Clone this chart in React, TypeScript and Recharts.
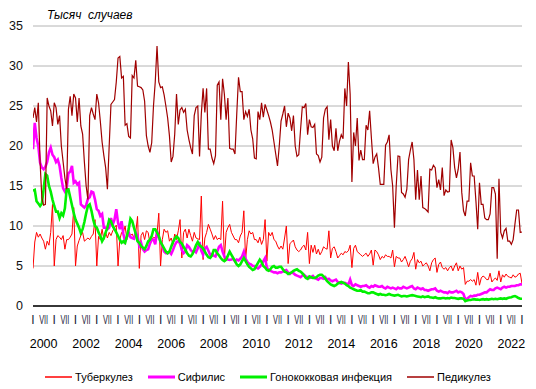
import React from 'react';
import { LineChart, Line, XAxis, YAxis, CartesianGrid, Legend } from 'recharts';

// Monthly values, thousand cases, Jan 2000 .. Jan 2023
const tuberculosis = [
  4.7, 8.0, 9.2, 8.6, 9.0, 8.5, 8.1, 7.1, 8.1, 7.6, 9.2, 12.7,
  5.0, 8.3, 8.8, 8.6, 8.3, 8.8, 7.1, 8.3, 8.3, 8.6, 9.0, 12.3,
  5.0, 7.5, 8.2, 8.8, 9.2, 8.1, 8.3, 8.5, 8.3, 8.7, 9.0, 10.8,
  5.0, 8.7, 8.3, 9.6, 8.3, 9.2, 8.5, 9.2, 8.8, 9.4, 9.8, 10.1,
  5.0, 8.3, 9.2, 9.2, 10.0, 8.3, 9.2, 8.8, 9.0, 8.5, 9.2, 11.2,
  4.7, 8.8, 9.2, 8.3, 9.4, 9.2, 7.8, 8.3, 8.6, 8.5, 9.0, 11.6,
  5.0, 8.3, 9.6, 9.2, 9.4, 8.1, 8.5, 7.7, 9.0, 8.3, 9.4, 10.8,
  6.0, 9.2, 9.6, 8.5, 9.6, 8.8, 8.1, 9.2, 8.5, 8.4, 8.3, 13.75,
  5.8, 8.5, 9.2, 10.2, 9.6, 9.0, 8.3, 8.8, 8.3, 8.5, 8.3, 13.1,
  5.8, 9.2, 9.8, 10.2, 9.2, 8.75, 8.3, 8.3, 7.9, 8.75, 9.2, 11.9,
  5.8, 8.3, 9.4, 9.0, 9.2, 8.3, 8.3, 7.9, 8.6, 7.7, 8.3, 10.8,
  5.6, 9.2, 8.75, 9.2, 8.3, 8.1, 7.5, 7.1, 7.5, 7.1, 8.5, 10.0,
  5.3, 7.8, 8.0, 8.25, 7.4, 7.0, 6.8, 7.0, 7.4, 7.6, 7.0, 9.2,
  5.3, 7.6, 6.7, 7.6, 6.5, 7.1, 6.4, 6.8, 7.4, 7.2, 7.1, 9.4,
  6.0, 7.2, 7.4, 6.8, 6.0, 6.3, 6.6, 6.4, 6.8, 6.7, 6.9, 7.6,
  4.8, 7.2, 7.6, 6.8, 6.6, 6.4, 6.2, 6.4, 6.6, 6.2, 6.5, 7.0,
  5.1, 7.0, 6.8, 6.4, 5.8, 6.2, 6.0, 6.4, 6.2, 6.2, 6.0, 7.0,
  4.9, 6.2, 6.0, 6.0, 5.5, 5.8, 6.2, 5.6, 4.9, 5.6, 5.9, 6.7,
  4.6, 5.8, 5.4, 5.6, 5.0, 5.2, 5.4, 5.0, 4.4, 5.4, 5.8, 6.0,
  4.2, 5.2, 5.5, 4.8, 4.6, 4.8, 4.4, 4.8, 5.0, 4.4, 5.0, 5.4,
  4.4, 5.0, 4.6, 4.8, 2.7, 3.1, 3.1, 3.3, 3.1, 3.3, 2.6, 4.2,
  2.6, 3.5, 3.75, 3.6, 3.3, 3.3, 4.1, 3.0, 3.3, 3.5, 3.2, 4.4,
  3.0, 3.9, 3.6, 4.0, 3.7, 3.6, 3.5, 3.9, 3.6, 3.7, 4.0, 4.1,
  2.8,
];

const syphilis = [
  19.6, 22.9, 21.0, 20.0, 17.9, 17.3, 17.1, 17.4, 18.0, 19.2,
  19.8, 18.9, 18.6, 18.0, 18.3, 17.5, 16.0, 14.7, 14.3, 14.8,
  16.6, 16.8, 17.5, 15.4, 15.6, 15.2, 15.4, 12.7, 12.5, 12.3,
  12.6, 13.4, 13.6, 14.3, 14.2, 13.3, 12.1, 11.9, 11.25, 11.5,
  9.8, 9.8, 9.6, 9.8, 11.0, 10.2, 10.8, 12.1, 10.4, 9.6,
  10.6, 9.0, 8.1, 8.6, 9.2, 8.6, 8.5, 8.4, 9.2, 8.75,
  7.5, 7.9, 7.1, 6.8, 7.0, 7.1, 7.8, 8.3, 8.3, 7.7,
  9.4, 8.6,
  8.0, 7.5, 6.8, 6.6, 6.6, 6.8, 6.5, 7.0, 7.6, 8.0,
  8.1, 7.8, 7.0, 6.6, 6.8, 7.6, 7.4, 7.0, 6.8, 6.9,
  6.7, 7.2, 8.0, 6.9, 6.4, 7.2, 7.4, 6.9, 6.4, 6.5,
  6.3, 6.2, 6.8, 7.4, 7.6, 6.8, 6.2, 5.9, 5.8, 5.75,
  5.8, 5.9, 5.6, 5.8, 5.7, 5.9, 6.2, 6.8, 5.9, 5.5,
  5.3, 5.2, 5.0, 5.0, 4.8, 4.7, 4.9, 5.2, 5.6, 6.0,
  4.8, 4.5, 4.4, 4.3, 4.2, 4.2, 4.1, 4.2, 4.2,
  4.3, 4.4, 4.5, 4.2, 4.0, 4.2, 4.1, 3.9, 3.8, 3.7,
  3.6, 3.8, 3.9, 3.7, 3.6, 3.5, 3.6, 3.75, 3.5, 3.4,
  3.3, 3.5, 3.5, 3.4, 3.6, 3.3, 3.4, 3.2, 3.1, 3.2,
  3.3, 3.0, 2.9, 2.8, 2.9, 2.9, 2.8, 2.7, 3.3, 2.6,
  2.5, 2.7, 2.6, 2.5, 2.4, 2.5, 2.5, 2.6, 2.4, 2.3,
  2.5, 2.4, 2.6, 2.5, 2.4, 2.4, 2.5, 2.3, 2.2, 2.4,
  2.3, 2.2, 2.3, 2.2, 2.1, 2.3, 2.2, 2.2, 2.4, 2.3,
  2.2, 2.3, 2.4, 2.5, 2.2, 2.1, 2.3, 2.2, 2.1, 2.2,
  2.0, 2.0, 1.9, 2.0, 2.1, 2.1, 2.2, 1.9, 1.8, 1.9,
  1.8, 1.7, 1.7, 1.6, 1.8, 1.7, 1.7, 1.8, 1.9, 1.7,
  1.8, 1.7, 1.5, 0.8, 0.9, 1.1, 1.25, 1.2, 1.3, 1.3,
  1.4, 1.4, 1.5, 1.6, 1.7, 1.7, 1.9, 2.1, 2.0, 2.0,
  2.2, 2.3, 2.2, 2.1, 2.3, 2.4, 2.3, 2.4, 2.4, 2.5,
  2.5, 2.5, 2.6, 2.6, 2.7, 2.7,
];

const gonorrhea = [
  14.4, 14.5, 13.1, 12.8, 12.5, 12.8, 14.6, 16.5, 16.3, 15.0,
  14.3, 13.3, 12.5, 11.8, 11.8, 11.0, 11.6, 11.3, 12.2, 14.6,
  14.6, 13.6, 12.6, 11.6, 10.8, 10.3, 9.8, 9.1, 9.6, 10.5,
  11.6, 12.5, 12.7, 11.9, 10.8, 10.0, 9.8, 9.2, 8.75, 8.1,
  8.5, 9.2, 9.8, 10.8, 10.6, 10.0, 9.6, 9.2, 8.75, 8.3,
  7.9, 8.1, 7.9, 8.75, 9.6, 10.9, 10.6, 9.8, 9.0, 8.1,
  7.9, 7.5, 7.3, 7.1, 7.5, 8.1, 8.3, 8.75, 9.6, 9.6,
  9.2, 8.75,
  8.0, 7.6, 7.2, 6.8, 6.6, 6.8, 7.4, 8.0, 8.4, 8.7,
  8.5, 8.0, 7.8, 7.4, 7.0, 6.6, 6.3, 6.2, 6.5, 7.0,
  7.6, 8.0, 7.6, 7.4, 7.2, 6.8, 6.4, 6.1, 6.0, 6.3,
  7.0, 7.0, 6.6, 6.3, 6.0, 5.75, 5.6, 5.8, 6.3, 6.8,
  6.4, 6.0, 5.6, 5.2, 5.0, 5.2, 5.6, 6.0, 5.6, 5.2,
  4.9, 4.7, 4.5, 4.6, 5.0, 5.4, 5.8, 5.5, 5.0, 4.8,
  4.5,
  4.4, 4.6, 4.9, 5.0, 4.8, 4.8, 4.9, 4.9, 4.6, 4.3,
  4.2, 4.0, 4.1, 4.2, 4.4, 4.5, 4.6, 4.4, 4.3, 4.1,
  3.8, 3.5, 3.4, 3.7, 3.6, 3.5, 3.5, 3.6, 3.8, 3.9,
  3.9, 3.7, 3.4, 3.1, 2.9, 2.7, 2.6, 2.5, 2.6, 2.8,
  2.9, 3.0, 2.9, 2.8, 2.6, 2.5, 2.3, 2.2, 2.1, 2.0,
  1.9, 1.9, 2.0, 1.8, 1.8, 1.7, 1.6, 1.6, 1.7, 1.7,
  1.6, 1.5, 1.4, 1.5, 1.4, 1.4, 1.35, 1.4, 1.5, 1.4,
  1.35, 1.3, 1.35, 1.4, 1.3, 1.2, 1.25, 1.25, 1.2, 1.25,
  1.3, 1.35, 1.3, 1.25, 1.2, 1.15, 1.1, 1.2, 1.1, 1.15,
  1.2, 1.1, 1.05, 1.0, 1.1, 1.0, 0.95, 0.95, 1.0, 1.0,
  0.95, 1.0, 0.95, 1.05, 1.0, 1.0, 0.95, 0.9, 0.95, 0.95,
  0.9, 0.6, 0.7, 0.75, 0.75, 0.8, 0.85, 0.8, 0.8, 0.75,
  0.8, 0.85, 0.8, 0.85, 0.8, 0.85, 0.9, 0.85, 0.9, 0.85,
  0.9, 0.95, 0.9, 0.95, 0.9, 1.0, 1.05, 1.1, 1.2, 1.25,
  1.15, 1.0, 0.9, 0.9,
];

const pediculosis = [
  23.5, 24.8, 23.0, 25.4, 18.0, 13.5, 12.6, 12.7, 26.0, 25.0,
  24.4, 22.5, 25.4, 24.8, 22.7, 23.8, 20.0, 18.0, 16.0, 14.6,
  24.6, 26.2, 23.8, 26.5, 26.0, 23.0, 26.0, 22.5, 21.5, 18.0,
  15.0, 13.3, 23.8, 24.8, 24.0, 23.3, 26.5, 25.4, 23.1, 20.5,
  18.8, 17.3, 14.6, 20.0, 25.2, 25.5, 25.8, 28.0, 31.0, 31.2,
  28.5, 28.7, 22.6, 22.8, 21.2, 21.0, 28.8, 28.5, 30.7, 27.5,
  27.4, 27.3, 27.0, 25.6, 21.3, 20.0, 19.2, 20.4,
  25.0, 28.0, 32.5, 28.0, 27.3, 27.4, 26.4, 25.0, 23.5, 21.3,
  18.0, 18.7, 21.5, 26.5, 22.7, 24.5, 24.8, 24.2, 24.6, 22.0,
  20.8, 19.8, 19.0, 23.8, 24.8, 25.0, 18.7, 24.0, 27.2, 24.2,
  27.2, 19.6, 19.6, 18.5, 17.8, 18.8, 27.6, 28.0, 23.3, 28.4,
  26.5, 23.3, 26.0, 19.7, 19.6, 19.6, 19.0, 24.0, 28.6, 26.8,
  26.8, 23.3, 24.3, 23.7, 24.6, 22.0, 20.9, 18.5, 18.4, 24.3,
  23.3, 25.4, 23.6, 25.2,
  24.5, 23.8, 23.0, 22.0, 20.5, 19.0, 17.5, 20.0, 23.1, 24.0,
  25.0, 22.4, 24.1, 23.5, 21.9, 23.8, 20.0, 18.7, 18.9, 22.0,
  24.9, 24.8, 25.3, 21.4, 23.3, 22.4, 22.3, 22.7, 19.0, 18.8,
  18.0, 18.6, 23.5, 24.6, 24.9, 20.8, 23.3, 20.0, 19.4, 22.2,
  19.4, 20.6, 21.4, 20.9, 27.2, 25.0, 30.5, 26.5, 15.5, 21.7,
  20.0, 23.5, 18.2, 19.5, 18.3, 18.3, 22.6, 22.0, 24.4, 21.0,
  17.8, 18.6, 19.0, 17.3, 15.2, 15.2, 15.2, 20.1, 20.5, 21.4,
  17.1, 15.0, 9.8, 15.0, 18.75, 18.7, 14.2, 14.0, 13.6,
  14.6, 18.3, 19.5, 20.5, 18.3, 13.3, 17.0, 13.3, 16.25, 12.3,
  12.2, 12.0, 11.75, 17.1, 17.0, 17.6, 17.3, 14.8, 15.8, 14.5,
  17.3, 13.8, 14.5, 14.25, 14.3, 20.75, 19.8, 17.3, 16.0, 17.1,
  19.25, 14.2, 11.9, 11.25, 13.1, 13.1, 17.9, 16.25, 16.25, 13.1,
  9.6, 15.4, 12.7, 12.7, 11.0, 10.8, 10.8, 11.5, 14.8, 14.8,
  14.0, 5.9, 15.9, 9.2, 8.5, 9.4, 9.7, 8.1, 8.1, 7.7,
  8.3, 10.2, 12.0, 12.0, 9.2, 9.25,
];

const seriesNames = ['Туберкулез', 'Сифилис', 'Гонококковая инфекция', 'Педикулез'];
const yTicks = [0, 5, 10, 15, 20, 25, 30, 35];
const monthLabels = ['I', 'VII'];
const yearLabels = [2000, 2002, 2004, 2006, 2008, 2010, 2012, 2014, 2016, 2018, 2020, 2022];
const titleText = 'Тысяч  случаев';

const data = tuberculosis.map((v, i) => ({
  m: i,
  tb: v,
  sy: syphilis[i],
  go: gonorrhea[i],
  pe: pediculosis[i],
}));

const lastIndex = data.length - 1;
const monthTicks = data.filter((d) => d.m % 6 === 0).map((d) => d.m);
const yearTicks = yearLabels.map((y) => (y - 2000) * 12 + 6);

const FONT = '"Liberation Sans", Arial, sans-serif';

const series = [
  { key: 'tb', name: seriesNames[0], color: '#ff0000', width: 1, legendWidth: 1.5 },
  { key: 'sy', name: seriesNames[1], color: '#ff00ff', width: 2.6, legendWidth: 3 },
  { key: 'go', name: seriesNames[2], color: '#00f000', width: 2.6, legendWidth: 3 },
  { key: 'pe', name: seriesNames[3], color: '#a00000', width: 1.2, legendWidth: 1.5 },
];

const MonthTick = (props: any) => {
  const { x, y, payload } = props;
  const isJan = payload.value % 12 === 0;
  const label = monthLabels[isJan ? 0 : 1];
  const extra: any = isJan ? {} : { textLength: 9, lengthAdjust: 'spacingAndGlyphs' };
  return (
    <text x={x} y={y + 18} textAnchor="middle" fontSize={12} fill="#1b1b3a" fontFamily={FONT} {...extra}>
      {label}
    </text>
  );
};

const YearTick = (props: any) => {
  const { x, y, index } = props;
  return (
    <text x={x} y={y + 22} textAnchor="middle" fontSize={12.5} fill="#000" fontFamily={FONT}>
      {String(yearLabels[index])}
    </text>
  );
};

const renderLegend = () => (
  <div
    style={{
      display: 'flex',
      justifyContent: 'center',
      alignItems: 'center',
      fontFamily: FONT,
      fontSize: 11,
      color: '#000',
      height: 18,
    }}
  >
    {series.map((s, k) => (
      <div key={s.key} style={{ display: 'flex', alignItems: 'center', marginRight: k < series.length - 1 ? 15 : 0 }}>
        <svg width={27} height={6} style={{ display: 'block' }}>
          <line x1={0} y1={3} x2={27} y2={3} stroke={s.color} strokeWidth={s.legendWidth} />
        </svg>
        <span style={{ marginLeft: 3, whiteSpace: 'nowrap' }}>{s.name}</span>
      </div>
    ))}
  </div>
);

export default function App() {
  return (
    <div style={{ position: 'absolute', left: 0, top: 0, width: 536, height: 389, background: '#fff' }}>
      <div
        style={{
          position: 'absolute',
          left: 47,
          top: 7,
          fontFamily: FONT,
          fontStyle: 'italic',
          fontSize: 12,
          whiteSpace: 'pre',
          color: '#000',
          lineHeight: '16px',
          zIndex: 2,
        }}
      >
        {titleText}
      </div>
      <LineChart width={536} height={389} data={data} margin={{ top: 26, right: 14, left: 0, bottom: 33 }}>
        <CartesianGrid vertical={false} stroke="#b4b4b4" strokeWidth={1} />
        <XAxis
          dataKey="m"
          type="number"
          domain={[0, lastIndex]}
          ticks={monthTicks}
          interval={0}
          tick={<MonthTick />}
          tickLine={false}
          tickSize={0}
          tickMargin={0}
          axisLine={{ stroke: '#000', strokeWidth: 1.5 }}
          height={20}
          allowDataOverflow
        />
        <XAxis
          xAxisId="yr"
          dataKey="m"
          type="number"
          domain={[0, lastIndex]}
          ticks={yearTicks}
          interval={0}
          tick={<YearTick />}
          tickLine={false}
          tickSize={0}
          tickMargin={0}
          axisLine={false}
          height={30}
          allowDataOverflow
        />
        <YAxis
          domain={[0, 35]}
          ticks={yTicks}
          interval={0}
          axisLine={false}
          tickLine={false}
          tickSize={0}
          tickMargin={10}
          width={33}
          tick={{ fontSize: 12.5, fill: '#111', fontFamily: FONT }}
        />
        <Legend
          layout="horizontal"
          verticalAlign="middle"
          align="center"
          wrapperStyle={{ top: 368, left: 0, width: 536, height: 18 }}
          content={renderLegend}
        />
        {series.map((s) => (
          <Line
            key={s.key}
            dataKey={s.key}
            name={s.name}
            type="linear"
            stroke={s.color}
            strokeWidth={s.width}
            dot={false}
            activeDot={false}
            isAnimationActive={false}
          />
        ))}
      </LineChart>
    </div>
  );
}
